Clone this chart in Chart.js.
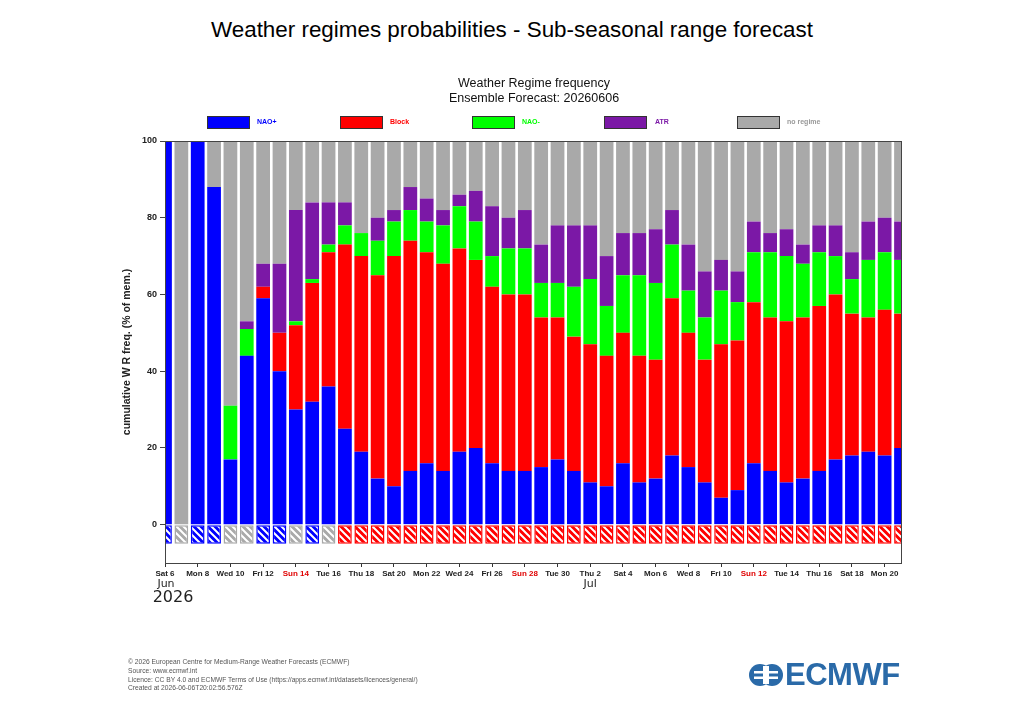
<!DOCTYPE html>
<html>
<head>
<meta charset="utf-8">
<title>Weather regimes probabilities</title>
<script src="https://cdn.jsdelivr.net/npm/chart.js@4.4.1/dist/chart.umd.min.js"></script>
<style>
  body { margin: 0; background: #fff; font-family: "Liberation Sans", Arial, sans-serif; }
  #page { position: relative; width: 1024px; height: 720px; overflow: hidden; }
  #chart { position: absolute; left: 0; top: 0; }
  h1 { position: absolute; top: 17px; left: 0; width: 1024px; margin: 0; text-align: center;
       font-weight: normal; font-size: 22.4px; color: #000; }
  .credits { position: absolute; left: 128px; top: 658px; font-size: 6.7px; line-height: 8.8px; color: #555; }
  .logo { position: absolute; left: 748px; top: 659px; height: 32px; display: flex; align-items: center; }
  .logo span { font-weight: bold; font-size: 31px; color: #2a6aa8; letter-spacing: -0.5px; margin-left: 1px; }
</style>
</head>
<body>
<div id="page">
  <h1>Weather regimes probabilities - Sub-seasonal range forecast</h1>
  <canvas id="chart" width="1024" height="720"></canvas>
  <div class="credits">
    © 2026 European Centre for Medium-Range Weather Forecasts (ECMWF)<br>
    Source: www.ecmwf.int<br>
    Licence: CC BY 4.0 and ECMWF Terms of Use (https://apps.ecmwf.int/datasets/licences/general/)<br>
    Created at 2026-06-06T20:02:56.576Z
  </div>
  <div class="logo">
    <svg width="36" height="26" viewBox="0 0 36 26">
      <circle cx="12" cy="13" r="11" fill="#2a6aa8"/>
      <circle cx="24" cy="13" r="11" fill="#2a6aa8"/>
      <rect x="6" y="9" width="24" height="2.5" fill="#fff"/>
      <rect x="6" y="14.5" width="24" height="2.5" fill="#fff"/>
      <rect x="15" y="4" width="6" height="18" fill="#fff"/>
    </svg>
    <span>ECMWF</span>
  </div>
</div>
<script>
/* days of the forecast, Sat 6 Jun .. Tue 21 Jul 2026 */
const days = [
  "Sat 6", "Sun 7", "Mon 8", "Tue 9", "Wed 10", "Thu 11", "Fri 12", "Sat 13", "Sun 14", "Mon 15",
  "Tue 16", "Wed 17", "Thu 18", "Fri 19", "Sat 20", "Sun 21", "Mon 22", "Tue 23", "Wed 24", "Thu 25",
  "Fri 26", "Sat 27", "Sun 28", "Mon 29", "Tue 30", "Wed 1", "Thu 2", "Fri 3", "Sat 4", "Sun 5",
  "Mon 6", "Tue 7", "Wed 8", "Thu 9", "Fri 10", "Sat 11", "Sun 12", "Mon 13", "Tue 14", "Wed 15",
  "Thu 16", "Fri 17", "Sat 18", "Sun 19", "Mon 20", "Tue 21"
];

/* % of members per regime */
const naoPlus = [100, 0, 100, 88, 17, 44, 59, 40, 30, 32, 36, 25, 19, 12, 10, 14, 16, 14, 19, 20,
  16, 14, 14, 15, 17, 14, 11, 10, 16, 11, 12, 18, 15, 11, 7, 9, 16, 14, 11, 12, 14, 17, 18, 19, 18, 20];
const block = [0, 0, 0, 0, 0, 0, 3, 10, 22, 31, 35, 48, 51, 53, 60, 60, 55, 54, 53, 49,
  46, 46, 46, 39, 37, 35, 36, 34, 34, 33, 31, 41, 35, 32, 40, 39, 42, 40, 42, 42, 43, 43, 37, 35, 38, 35];
const naoMinus = [0, 0, 0, 0, 14, 7, 0, 0, 1, 1, 2, 5, 6, 9, 9, 8, 8, 10, 11, 10,
  8, 12, 12, 9, 9, 13, 17, 13, 15, 21, 20, 14, 11, 11, 14, 10, 13, 17, 17, 14, 14, 10, 9, 15, 15, 14];
const atr = [0, 0, 0, 0, 0, 2, 6, 18, 29, 20, 11, 6, 0, 6, 3, 6, 6, 4, 3, 8,
  13, 8, 10, 10, 15, 16, 14, 13, 11, 11, 14, 9, 12, 12, 8, 8, 8, 5, 7, 5, 7, 8, 7, 10, 9, 10];
const noRegime = [0, 100, 0, 12, 69, 47, 32, 32, 18, 16, 16, 16, 24, 20, 18, 12, 15, 18, 14, 13,
  17, 20, 18, 27, 22, 22, 22, 30, 24, 24, 23, 18, 27, 34, 31, 34, 21, 24, 23, 27, 22, 22, 29, 21, 20, 21];

/* dominant regime of each day (hatched row under zero) */
const dominant = ["nao+", "none", "nao+", "nao+", "none", "none", "nao+", "nao+", "none", "nao+",
  "none", "block", "block", "block", "block", "block", "block", "block", "block", "block",
  "block", "block", "block", "block", "block", "block", "block", "block", "block", "block",
  "block", "block", "block", "block", "block", "block", "block", "block", "block", "block",
  "block", "block", "block", "block", "block", "block"];
const hatchDepth = -5;

const colors = { "nao+": "#0000ff", block: "#ff0000", "nao-": "#00ff00", atr: "#7b18a6", none: "#a9a9a9" };

const chartCtx = document.getElementById("chart").getContext("2d");

/* white diagonal stripes on the regime colour */
function makePattern(color) {
  const c = document.createElement("canvas");
  c.width = 7; c.height = 7;
  const g = c.getContext("2d");
  g.fillStyle = color;
  g.fillRect(0, 0, 7, 7);
  g.strokeStyle = "#fff";
  g.lineWidth = 2;
  g.beginPath();
  g.moveTo(-2, -2); g.lineTo(9, 9);
  g.moveTo(-9, -2); g.lineTo(2, 9);
  g.moveTo(5, -2); g.lineTo(16, 9);
  g.stroke();
  return chartCtx.createPattern(c, "repeat");
}
const patterns = {};
Object.keys(colors).forEach((k) => { patterns[k] = makePattern(colors[k]); });

function regime(label, data, color) {
  return {
    label: label,
    data: data,
    backgroundColor: color,
    borderWidth: 0,
    barPercentage: 0.84,
    categoryPercentage: 1,
    clip: 0,
  };
}

const legendItems = [
  { text: "NAO+", key: "nao+", x: 207, tx: 257 },
  { text: "Block", key: "block", x: 340, tx: 390 },
  { text: "NAO-", key: "nao-", x: 472, tx: 522 },
  { text: "ATR", key: "atr", x: 604, tx: 655 },
  { text: "no regime", key: "none", x: 737, tx: 787 },
];

/* titles, legend, frame and month labels */
const decorations = {
  id: "decorations",
  afterDraw(chart) {
    const ctx = chart.ctx;
    const area = chart.chartArea;
    const xs = chart.scales.x;
    ctx.save();
    ctx.strokeStyle = "#444";
    ctx.lineWidth = 1;
    ctx.strokeRect(area.left + 0.5, area.top + 0.5, area.right - area.left, area.bottom - area.top);

    ctx.fillStyle = "#111";
    ctx.textAlign = "center";
    ctx.textBaseline = "middle";
    ctx.font = '12.5px "Liberation Sans", Arial, sans-serif';
    ctx.fillText("Weather Regime frequency", 534, 84);
    ctx.fillText("Ensemble Forecast: 20260606", 534, 99);

    legendItems.forEach((it) => {
      ctx.fillStyle = colors[it.key];
      ctx.fillRect(it.x, 116, 42, 12);
      ctx.strokeStyle = "#333";
      ctx.strokeRect(it.x + 0.5, 116.5, 42, 12);
      ctx.font = 'bold 7px "Liberation Sans", Arial, sans-serif';
      ctx.textAlign = "left";
      ctx.fillStyle = it.key === "none" ? "#999" : colors[it.key];
      ctx.fillText(it.text, it.tx, 122.5);
    });

    ctx.fillStyle = "#222";
    ctx.textAlign = "center";
    ctx.font = '11px "DejaVu Sans", sans-serif';
    ctx.fillText("Jun", xs.getPixelForValue(0) + 1, 584);
    ctx.fillText("Jul", xs.getPixelForValue(26), 584);
    ctx.font = '16px "DejaVu Sans", sans-serif';
    ctx.fillText("2026", xs.getPixelForValue(0) + 8, 598);
    ctx.restore();
  },
};

new Chart(chartCtx, {
  type: "bar",
  data: {
    labels: days,
    datasets: [
      regime("NAO+", naoPlus, colors["nao+"]),
      regime("Block", block, colors.block),
      regime("NAO-", naoMinus, colors["nao-"]),
      regime("ATR", atr, colors.atr),
      regime("no regime", noRegime, colors.none),
      {
        label: "dominant",
        data: dominant.map(() => hatchDepth),
        backgroundColor: dominant.map((d) => patterns[d]),
        borderColor: dominant.map((d) => colors[d]),
        borderWidth: 1.5,
        borderSkipped: false,
        barPercentage: 0.84,
        categoryPercentage: 1,
        clip: 0,
      },
    ],
  },
  options: {
    responsive: false,
    animation: false,
    layout: { padding: { left: 117, right: 123, top: 141, bottom: 127 } },
    plugins: {
      legend: { display: false },
      title: { display: false },
      tooltip: { enabled: true },
    },
    scales: {
      x: {
        stacked: true,
        offset: false,
        border: { display: false },
        grid: {
          drawOnChartArea: false,
          tickLength: 4,
          offset: false,
          tickColor: (c) => (c.index % 2 ? "rgba(0,0,0,0)" : "#333"),
        },
        ticks: {
          autoSkip: false,
          maxRotation: 0,
          padding: 2,
          font: { family: '"Liberation Sans", Arial, sans-serif', size: 8, weight: "bold" },
          color: (c) => (days[c.index] && days[c.index].startsWith("Sun") ? "#e00000" : "#222"),
          callback: (v, i) => (i % 2 ? "" : days[i]),
        },
        afterFit: (scale) => { scale.height = 30; },
      },
      y: {
        stacked: true,
        min: -10,
        max: 100,
        border: { display: false },
        grid: { drawOnChartArea: false, tickLength: 5, color: "#444" },
        ticks: {
          padding: 3,
          color: "#222",
          font: { family: '"Liberation Sans", Arial, sans-serif', size: 9, weight: "bold" },
        },
        afterBuildTicks: (scale) => {
          scale.ticks = [0, 20, 40, 60, 80, 100].map((v) => ({ value: v }));
        },
        afterFit: (scale) => { scale.width = 48; },
        title: {
          display: true,
          text: "cumulative W R freq. (% of mem.)",
          color: "#222",
          padding: { top: 4, bottom: 0 },
          font: { family: '"Liberation Sans", Arial, sans-serif', size: 10.5, weight: "bold" },
        },
      },
    },
  },
  plugins: [decorations],
});
</script>
</body>
</html>
